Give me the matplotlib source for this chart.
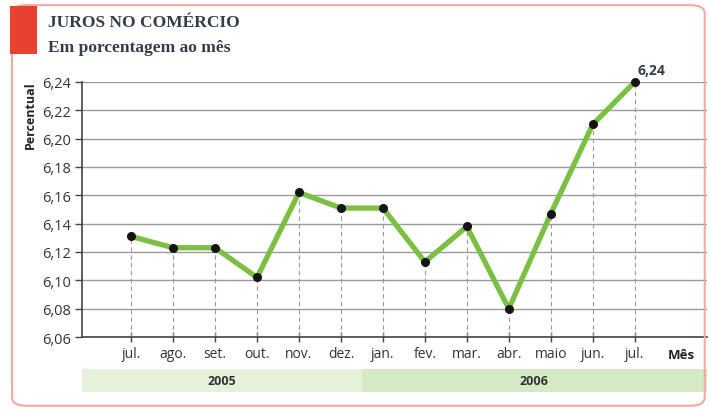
import matplotlib
matplotlib.use('Agg')
import matplotlib.pyplot as plt
import matplotlib.transforms as mtransforms
from matplotlib.patches import FancyBboxPatch, Rectangle

# data
months = ['jul.', 'ago.', 'set.', 'out.', 'nov.', 'dez.', 'jan.', 'fev.',
          'mar.', 'abr.', 'maio', 'jun.', 'jul.']
rates = [6.131, 6.123, 6.123, 6.102, 6.162, 6.151, 6.151, 6.113,
         6.138, 6.080, 6.147, 6.210, 6.240]
years = ['2005', '2006']
year_spans = [(-1.17, 5.5), (5.5, 13.72)]
yticks = [6.06, 6.08, 6.10, 6.12, 6.14, 6.16, 6.18, 6.20, 6.22, 6.24]

plt.rcParams['font.family'] = ['Open Sans', 'DejaVu Sans']
fig = plt.figure(figsize=(7.09, 4.10), dpi=100)
ax = fig.add_axes([0.1157, 0.1756, 0.8813, 0.622])

x = list(range(len(months)))
ymin = 6.06
for xi, yi in zip(x, rates):
    ax.plot([xi, xi], [ymin, yi], color='#999999', lw=0.8, ls=(0, (4, 3)), zorder=1)
ax.plot(x, rates, color='#7cc043', lw=3.8, solid_capstyle='round', zorder=3, clip_on=False)
ax.plot(x, rates, 'o', color='#151515', ms=5.5, zorder=4, clip_on=False)
ax.annotate('6,24', (x[-1], rates[-1]), xytext=(2, 6), textcoords='offset points',
            fontsize=10, color='#333d4a', fontweight='bold')

ax.set_xlim(-1.17, 13.72)
ax.set_ylim(6.06, 6.24)
ax.set_yticks(yticks)
ax.set_yticklabels([f'{v:.2f}'.replace('.', ',') for v in yticks], fontsize=10.5, color='#333333')
ax.yaxis.grid(True, color='#9a9a9a', lw=1)
ax.set_axisbelow(True)
ax.set_xticks(x)
ax.set_xticklabels(months, fontsize=10, color='#333333')
ax.tick_params(axis='x', direction='inout', length=7, width=1, color='#444444', pad=3)
ax.tick_params(axis='y', direction='out', length=5, width=1, color='#444444', pad=3)
for s in ['top', 'right']:
    ax.spines[s].set_visible(False)
ax.spines['left'].set_color('#444444')
ax.spines['bottom'].set_color('#444444')
ax.spines['left'].set_linewidth(1.2)
ax.spines['bottom'].set_linewidth(1.2)

ax.set_ylabel('Percentual', fontsize=9, fontweight='bold', color='#222222')
ax.yaxis.set_label_coords(-0.072, 0.875)
ax.text(13.12, -0.067, 'Mês', transform=mtransforms.blended_transform_factory(ax.transData, ax.transAxes),
        fontsize=9.5, fontweight='bold', color='#222222', ha='center', va='center')

# year bands
trans = mtransforms.blended_transform_factory(ax.transData, ax.transAxes)
band_colors = ['#e6f1dc', '#d5e9c4']
for (x0, x1), yr, c in zip(year_spans, years, band_colors):
    ax.add_patch(Rectangle((x0, -0.216), x1 - x0, 0.09, transform=trans,
                           facecolor=c, edgecolor='none', clip_on=False))
    ax.text((x0 + x1) / 2, -0.171, yr, transform=trans, ha='center', va='center',
            fontsize=9, fontweight='bold', color='#333333')

# frame and title block
fig.patches.append(FancyBboxPatch((0.017, 0.008), 0.977, 0.977,
                                  boxstyle='round,pad=0,rounding_size=0.02',
                                  transform=fig.transFigure, facecolor='none',
                                  edgecolor='#f3aaa2', lw=1.5))
fig.patches.append(Rectangle((0.014, 0.866), 0.038, 0.116, transform=fig.transFigure,
                             facecolor='#e8412f', edgecolor='none'))
fig.text(0.068, 0.945, 'JUROS NO COMÉRCIO', family='Liberation Serif', fontweight='bold',
         fontsize=12.5, color='#333d4a', va='center')
fig.text(0.068, 0.883, 'Em porcentagem ao mês', family='Liberation Serif', fontweight='bold',
         fontsize=12.5, color='#333d4a', va='center')

plt.savefig('out.png', dpi=100)
